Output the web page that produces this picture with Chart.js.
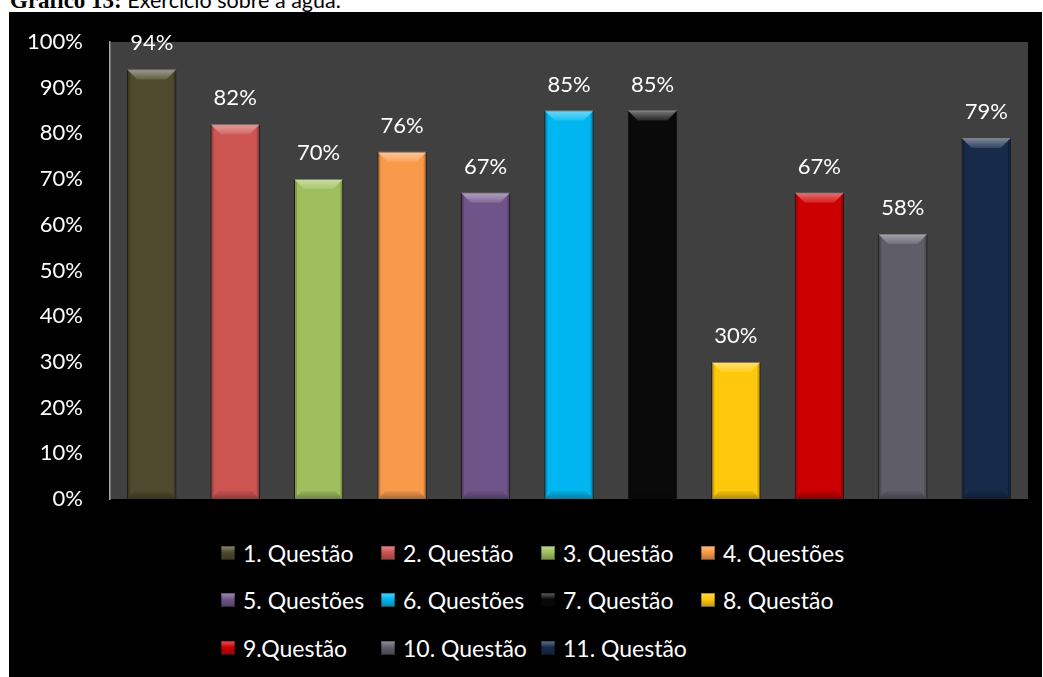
<!DOCTYPE html>
<html lang="pt">
<head>
<meta charset="utf-8">
<title>Gráfico 13</title>
<script src="https://cdn.jsdelivr.net/npm/chart.js@4.4.1/dist/chart.umd.min.js"></script>
<style>
    html, body { margin: 0; padding: 0; background: #fff; overflow: hidden; }
    body { width: 1043px; height: 677px; position: relative; }
    #legenda-titulo {
        position: absolute; left: 10px; top: -11px;
        font-size: 21.5px; line-height: 22px; white-space: nowrap; color: #000;
        font-family: Lato, "Open Sans", sans-serif;
    }
    #legenda-titulo b { font-family: "Liberation Serif", serif; font-weight: bold; font-size: 23px; }
    #quadro {
        position: absolute; left: 9px; top: 12px; width: 1033px; height: 665px;
        background: #000;
    }
    #grafico-wrap { position: absolute; left: 0; top: 0; width: 1033px; height: 500px; }
    #legenda {
        position: absolute; left: 212px; top: 517px;
        display: grid; grid-template-columns: repeat(4, 160px); grid-auto-rows: 47.5px;
        font-family: Lato, "Open Sans", sans-serif; font-size: 23px; color: #fff;
    }
    #legenda .item { display: flex; align-items: center; white-space: nowrap; }
    #legenda .caixa {
        width: 14px; height: 14px; margin-right: 8px; flex: none;
        box-shadow: inset 0 0 0 1px rgba(0,0,0,0.35);
    }
</style>
</head>
<body>
<div id="legenda-titulo"><b>Gráfico 13:</b> Exercício sobre a água.</div>
<div id="quadro">
    <div id="grafico-wrap"><canvas id="grafico"></canvas></div>
    <div id="legenda"></div>
</div>
<script>
(function() {
    'use strict';

    // percentual de acertos por questão
    const categorias = ['1. Questão', '2. Questão', '3. Questão', '4. Questões', '5. Questões',
        '6. Questões', '7. Questão', '8. Questão', '9.Questão', '10. Questão', '11. Questão'];
    const acertos = [94, 82, 70, 76, 67, 85, 85, 30, 67, 58, 79];
    const cores = ['#4e4a2d', '#cc5451', '#9fbf5c', '#f9994a', '#6f5489', '#00b6f0',
        '#0a0a0a', '#ffc80a', '#cc0000', '#5e5d68', '#172a4a'];

    const FONTE = 'Lato, "Open Sans", sans-serif';

    // fundo cinza da área de plotagem
    const fundoPlot = {
        id: 'fundoPlot',
        beforeDraw(chart) {
            const a = chart.chartArea, ctx = chart.ctx;
            ctx.save();
            ctx.fillStyle = '#404040';
            ctx.fillRect(a.left, a.top, a.right - a.left, a.bottom - a.top);
            ctx.restore();
        }
    };

    // chanfro (bevel) sobre cada barra
    const chanfro = {
        id: 'chanfro',
        afterDatasetsDraw(chart) {
            const ctx = chart.ctx;
            chart.getDatasetMeta(0).data.forEach(bar => {
                const l = bar.x - bar.width / 2, r = bar.x + bar.width / 2;
                const t = bar.y, b = bar.base, c = 10, s = 3;
                ctx.save();
                // topo claro
                let g = ctx.createLinearGradient(0, t, 0, t + c);
                g.addColorStop(0, 'rgba(255,255,255,0.45)');
                g.addColorStop(1, 'rgba(255,255,255,0.12)');
                ctx.fillStyle = g;
                ctx.beginPath();
                ctx.moveTo(l, t); ctx.lineTo(r, t); ctx.lineTo(r - c, t + c); ctx.lineTo(l + c, t + c);
                ctx.closePath(); ctx.fill();
                // laterais
                ctx.fillStyle = 'rgba(0,0,0,0.18)';
                ctx.beginPath();
                ctx.moveTo(l, t); ctx.lineTo(l + s, t + s); ctx.lineTo(l + s, b - s); ctx.lineTo(l, b);
                ctx.closePath(); ctx.fill();
                ctx.beginPath();
                ctx.moveTo(r, t); ctx.lineTo(r - s, t + s); ctx.lineTo(r - s, b - s); ctx.lineTo(r, b);
                ctx.closePath(); ctx.fill();
                // base escura
                g = ctx.createLinearGradient(0, b - 8, 0, b);
                g.addColorStop(0, 'rgba(0,0,0,0.05)');
                g.addColorStop(1, 'rgba(0,0,0,0.30)');
                ctx.fillStyle = g;
                ctx.beginPath();
                ctx.moveTo(l, b); ctx.lineTo(r, b); ctx.lineTo(r - 8, b - 8); ctx.lineTo(l + 8, b - 8);
                ctx.closePath(); ctx.fill();
                ctx.restore();
            });
        }
    };

    // rótulos de valor acima das barras
    const rotulos = {
        id: 'rotulos',
        afterDatasetsDraw(chart) {
            const ctx = chart.ctx;
            const valores = chart.data.datasets[0].data;
            ctx.save();
            ctx.fillStyle = '#ffffff';
            ctx.font = '22px ' + FONTE;
            ctx.textAlign = 'center';
            ctx.textBaseline = 'alphabetic';
            chart.getDatasetMeta(0).data.forEach((bar, i) => {
                ctx.fillText(valores[i] + '%', bar.x, bar.y - 19);
            });
            ctx.restore();
        }
    };

    const chart = new Chart(document.getElementById('grafico'), {
        type: 'bar',
        data: {
            labels: categorias,
            datasets: [{
                data: acertos,
                backgroundColor: cores,
                borderColor: 'rgba(0,0,0,0.55)',
                borderWidth: 1,
                categoryPercentage: 1,
                barPercentage: 0.59
            }]
        },
        options: {
            responsive: true, maintainAspectRatio: false, animation: false,
            layout: { padding: { left: 0, right: 14, top: 30, bottom: 13 } },
            plugins: { legend: { display: false }, tooltip: { enabled: false } },
            scales: {
                x: { display: false },
                y: {
                    min: 0, max: 100,
                    // largura fixa do eixo; sem folga vertical extra do padding dos ticks
                    afterFit: s => { s.width = 101; s.paddingTop = 0; s.paddingBottom = 0; },
                    ticks: {
                        stepSize: 10, padding: 27, color: '#ffffff',
                        font: { family: FONTE, size: 22 },
                        callback: v => v + '%'
                    },
                    grid: { display: false, drawTicks: false },
                    border: { display: true, color: '#a6a6a6', width: 1.5 }
                }
            }
        },
        plugins: [fundoPlot, chanfro, rotulos]
    });

    // legenda em grade, 4 colunas
    const leg = document.getElementById('legenda');
    chart.data.labels.forEach((txt, i) => {
        const item = document.createElement('div');
        item.className = 'item';
        const cx = document.createElement('span');
        cx.className = 'caixa';
        cx.style.background = 'linear-gradient(to bottom, rgba(255,255,255,0.35), rgba(255,255,255,0) 45%, rgba(0,0,0,0.25)), ' + cores[i];
        item.appendChild(cx);
        item.appendChild(document.createTextNode(txt));
        leg.appendChild(item);
    });
})();
</script>
</body>
</html>
